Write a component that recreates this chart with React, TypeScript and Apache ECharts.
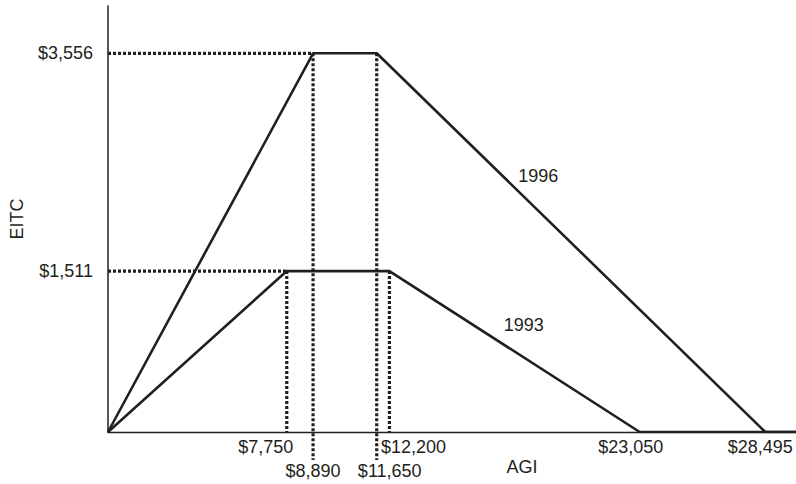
import React, { useEffect, useRef } from "react";
import * as echarts from "echarts";

// ---- data ----
const agi1996 = [0, 8890, 11650, 28495, 30000];
const eitc1996 = [0, 3556, 3556, 0, 0];
const agi1993 = [0, 7750, 12200, 23050, 30000];
const eitc1993 = [0, 1511, 1511, 0, 0];
const xTickValues = [7750, 8890, 11650, 12200, 23050, 28495];
const yTickValues = [1511, 3556];
const yearNames = ["1996", "1993"];
const yearLabelAgi = [18650, 18020];
const yearLabelEitc = [2404, 1009];
const X_MAX = 30000;
const Y_MAX = 4000;

// ---- styles ----
const INK = "#231f20";
const FONT = "'Liberation Sans', Arial, Helvetica, sans-serif";
const DOT: number[] = [3, 2];
const DOT_W = 3.2;
// pixel layout of the x tick labels: row (0 upper, 1 lower) and horizontal nudge
const xLabelLayout: Record<number, { row: number; dx: number }> = {
  7750: { row: 0, dx: -21 },
  8890: { row: 1, dx: 0 },
  11650: { row: 1, dx: 13 },
  12200: { row: 0, dx: 24 },
  23050: { row: 0, dx: -9 },
  28495: { row: 0, dx: -5 },
};
const ROW_DY = [15, 39];
// how far the dotted drop lines run below the axis (px), per curve
const DROP_EXT = { c1996: 28, c1993: 0 };

const money = (v: number) => "$" + Number(v).toLocaleString("en-US");

export default function App() {
  const ref = useRef<HTMLDivElement>(null);

  useEffect(() => {
    document.body.style.margin = "0";
    if (!ref.current) return;
    const chart = echarts.init(ref.current, null, { renderer: "svg" });

    // guide data: [x, y, drawHorizontal(1/0), extBelowPx]
    const guideData = (a: number[], e: number[], ext: number) => [
      [a[1], e[1], 1, ext],
      [a[2], e[2], 0, ext],
    ];

    const curve = (a: number[], e: number[], name: string) => ({
      type: "line",
      name,
      data: a.map((x, i) => [x, e[i]]),
      symbol: "none",
      z: 3,
      lineStyle: { color: INK, width: 2.6 },
    });

    const dotStyle = { stroke: INK, lineWidth: DOT_W, lineDash: DOT, lineCap: "butt", fill: null };

    const textLabel = {
      show: true,
      position: "inside",
      formatter: (p: any) => p.name,
      fontSize: 18,
      fontFamily: FONT,
      color: INK,
      opacity: 1,
    };

    const tickLabelSeries = xTickValues.map((v) => {
      const l = xLabelLayout[v];
      return {
        type: "scatter",
        symbolSize: 0,
        silent: true,
        clip: false,
        z: 4,
        itemStyle: { opacity: 1 },
        labelLayout: { dx: l.dx, dy: ROW_DY[l.row], hideOverlap: false },
        data: [{ value: [v, 0], name: money(v) }],
        label: textLabel,
      };
    });

    chart.setOption({
      animation: false,
      backgroundColor: "#ffffff",
      grid: {
        left: 108,
        right: -4,
        top: 6,
        bottom: 52,
        containLabel: false,
        outerBoundsMode: "none",
      },
      xAxis: {
        type: "value",
        min: 0,
        max: X_MAX,
        name: "AGI",
        nameLocation: "middle",
        nameGap: 26,
        nameMoveOverlap: false,
        nameTextStyle: {
          fontSize: 18,
          fontFamily: FONT,
          color: INK,
          padding: [0, 0, 0, 136],
          verticalAlign: "top",
        },
        axisLine: { show: true, lineStyle: { color: INK, width: 1.3 } },
        axisTick: { show: false },
        splitLine: { show: false },
        axisLabel: { show: false },
      },
      yAxis: {
        type: "value",
        min: 0,
        max: Y_MAX,
        name: "EITC",
        nameLocation: "middle",
        nameGap: 82,
        nameMoveOverlap: false,
        nameTextStyle: { fontSize: 18, fontFamily: FONT, color: INK },
        axisLine: { show: true, lineStyle: { color: INK, width: 1.5 } },
        axisTick: { show: false },
        splitLine: { show: false },
        axisLabel: {
          show: true,
          customValues: yTickValues,
          hideOverlap: false,
          margin: 15,
          fontSize: 18,
          fontFamily: FONT,
          color: INK,
          formatter: (v: number) => money(v),
        },
      },
      series: [
        {
          type: "custom",
          silent: true,
          clip: false,
          z: 1,
          data: [
            ...guideData(agi1996, eitc1996, DROP_EXT.c1996),
            ...guideData(agi1993, eitc1993, DROP_EXT.c1993),
          ],
          renderItem: (_p: any, api: any) => {
            const x = api.value(0);
            const y = api.value(1);
            const horiz = api.value(2);
            const ext = api.value(3);
            const top = api.coord([x, y]);
            const base = api.coord([x, 0]);
            const children: any[] = [
              {
                type: "line",
                shape: { x1: top[0], y1: top[1], x2: base[0], y2: base[1] + ext },
                style: dotStyle,
              },
            ];
            if (horiz) {
              const left = api.coord([0, y]);
              children.push({
                type: "line",
                shape: { x1: left[0], y1: left[1], x2: top[0], y2: top[1] },
                style: dotStyle,
              });
            }
            return { type: "group", children };
          },
        },
        curve(agi1996, eitc1996, yearNames[0]),
        curve(agi1993, eitc1993, yearNames[1]),
        {
          type: "scatter",
          symbolSize: 0,
          silent: true,
          z: 4,
          itemStyle: { opacity: 1 },
          data: yearNames.map((n, i) => ({ value: [yearLabelAgi[i], yearLabelEitc[i]], name: n })),
          label: textLabel,
        },
        ...tickLabelSeries,
      ],
    });

    return () => chart.dispose();
  }, []);

  return <div ref={ref} style={{ width: 796, height: 484 }} />;
}
